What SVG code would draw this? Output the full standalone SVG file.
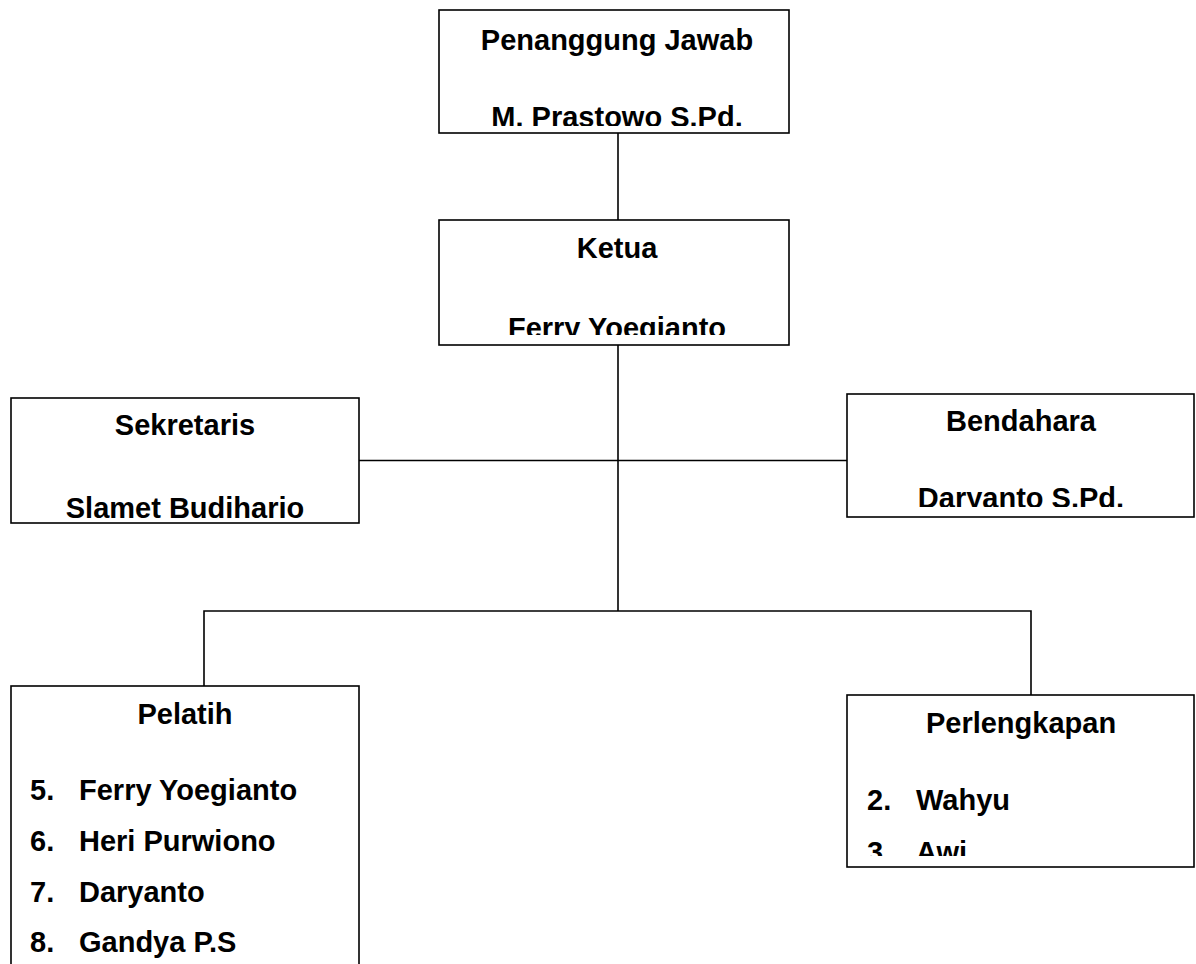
<svg xmlns="http://www.w3.org/2000/svg" width="1196" height="964" viewBox="0 0 1196 964">
<defs>
<style>
.box{fill:#fff;stroke:#000;stroke-width:1.6}
.ln{fill:none;stroke:#000;stroke-width:1.6}
text{font-family:"Liberation Sans",Arial,sans-serif;font-weight:bold;font-size:29px;fill:#000}
.c{text-anchor:middle}
</style>
<clipPath id="c1"><rect x="440" y="11" width="348" height="115"/></clipPath>
<clipPath id="c2"><rect x="440" y="221" width="348" height="114"/></clipPath>
<clipPath id="c3"><rect x="12" y="399" width="346" height="119"/></clipPath>
<clipPath id="c4"><rect x="848" y="395" width="345" height="112"/></clipPath>
<clipPath id="c5"><rect x="12" y="687" width="346" height="280"/></clipPath>
<clipPath id="c6"><rect x="848" y="696" width="345" height="160"/></clipPath>
</defs>
<rect width="1196" height="964" fill="#fff"/>
<g id="connectors">
<path class="ln" d="M618 133V220"/>
<path class="ln" d="M618 345V611"/>
<path class="ln" d="M359 460.5H847"/>
<path class="ln" d="M204 687V611H1031V695"/>
</g>
<g id="penanggung-jawab">
<rect class="box" x="439" y="10" width="350" height="123"/>
<g clip-path="url(#c1)">
<text class="c" x="617" y="50">Penanggung Jawab</text>
<text class="c" x="617" y="127">M. Prastowo S.Pd.</text>
</g>
</g>
<g id="ketua">
<rect class="box" x="439" y="220" width="350" height="125"/>
<g clip-path="url(#c2)">
<text class="c" x="617" y="258">Ketua</text>
<text class="c" x="617" y="338">Ferry Yoegianto</text>
</g>
</g>
<g id="sekretaris">
<rect class="box" x="11" y="398" width="348" height="125"/>
<g clip-path="url(#c3)">
<text class="c" x="185" y="435">Sekretaris</text>
<text class="c" x="185" y="518">Slamet Budiharjo</text>
</g>
</g>
<g id="bendahara">
<rect class="box" x="847" y="394" width="347" height="123"/>
<g clip-path="url(#c4)">
<text class="c" x="1021" y="431">Bendahara</text>
<text class="c" x="1021" y="508">Daryanto S.Pd.</text>
</g>
</g>
<g id="pelatih">
<rect class="box" x="11" y="686" width="348" height="290"/>
<g clip-path="url(#c5)">
<text class="c" x="185" y="724">Pelatih</text>
<text x="30" y="800">5.</text><text x="79" y="800">Ferry Yoegianto</text>
<text x="30" y="851">6.</text><text x="79" y="851">Heri Purwiono</text>
<text x="30" y="902">7.</text><text x="79" y="902">Daryanto</text>
<text x="30" y="952">8.</text><text x="79" y="952">Gandya P.S</text>
</g>
</g>
<g id="perlengkapan">
<rect class="box" x="847" y="695" width="347" height="172"/>
<g clip-path="url(#c6)">
<text class="c" x="1021" y="733">Perlengkapan</text>
<text x="867" y="810">2.</text><text x="916" y="810">Wahyu</text>
<text x="867" y="862">3.</text><text x="916" y="862">Awi</text>
</g>
</g>
</svg>
